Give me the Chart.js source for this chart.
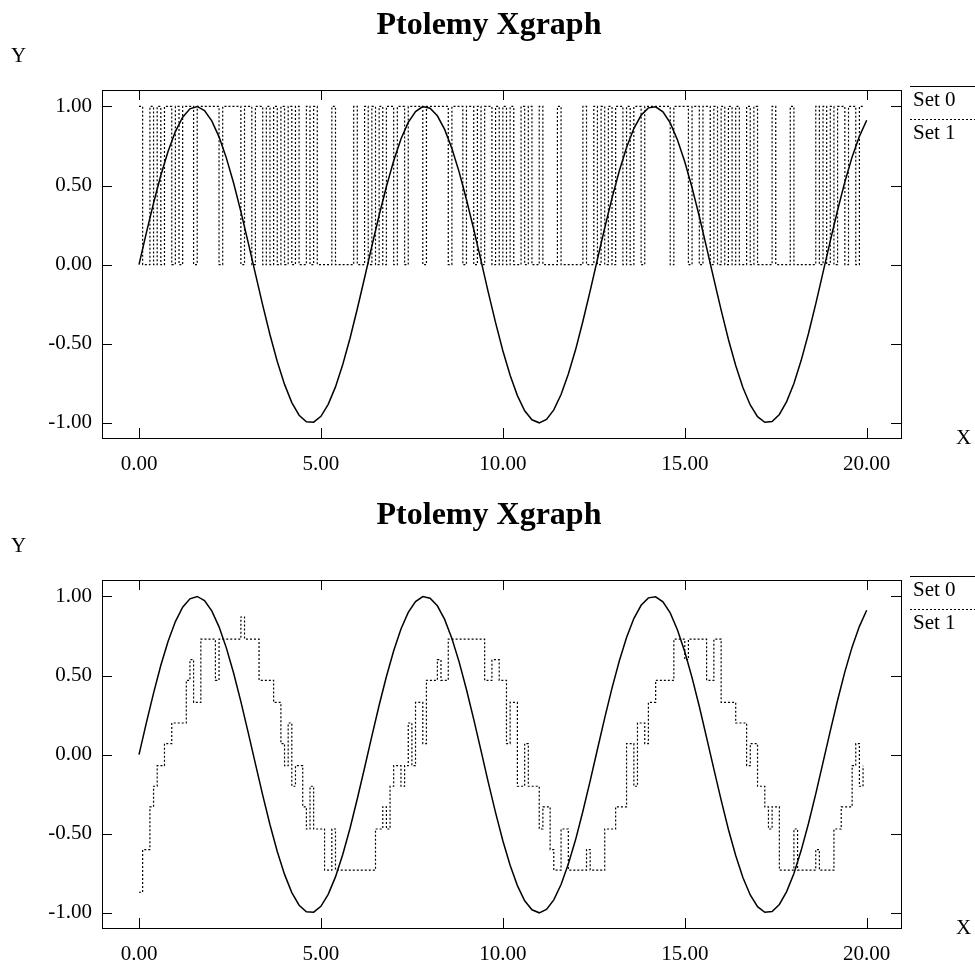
<!DOCTYPE html>
<html>
<head>
<meta charset="utf-8">
<script src="https://cdn.jsdelivr.net/npm/chart.js@4.4.1/dist/chart.umd.min.js"></script>
<style>
  html, body { margin: 0; padding: 0; background: #fff; }
  body { width: 975px; height: 968px; overflow: hidden; position: relative; }
  canvas { position: absolute; left: 0; }
  #top { top: 0; }
  #bottom { top: 490px; }
</style>
</head>
<body>
<canvas id="top" width="975" height="490"></canvas>
<canvas id="bottom" width="975" height="490"></canvas>
<script>
// ---- data ----
const TITLE = 'Ptolemy Xgraph';
const SERIES = ['Set 0', 'Set 1'];
const X_TICKS = [0, 5, 10, 15, 20];
const Y_TICKS = [-1, -0.5, 0, 0.5, 1];

// Set 0: sine, one sample every 0.2
const SET0_STEP = 0.2;
const SET0 = [
  0, 0.199, 0.389, 0.565, 0.717, 0.841, 0.932, 0.985, 1.0, 0.974,
  0.909, 0.808, 0.675, 0.516, 0.335, 0.141, -0.058, -0.256, -0.443, -0.612,
  -0.757, -0.872, -0.952, -0.994, -0.996, -0.959, -0.883, -0.773, -0.631, -0.465,
  -0.279, -0.083, 0.117, 0.312, 0.494, 0.657, 0.794, 0.899, 0.968, 0.999,
  0.989, 0.941, 0.855, 0.734, 0.585, 0.412, 0.223, 0.025, -0.175, -0.367,
  -0.544, -0.699, -0.828, -0.924, -0.981, -1.0, -0.979, -0.918, -0.821, -0.691,
  -0.537, -0.358, -0.166, 0.034, 0.232, 0.420, 0.592, 0.740, 0.860, 0.944,
  0.991, 0.998, 0.966, 0.896, 0.788, 0.650, 0.487, 0.304, 0.108, -0.092,
  -0.288, -0.473, -0.638, -0.778, -0.887, -0.961, -0.997, -0.992, -0.947, -0.866,
  -0.751, -0.605, -0.435, -0.248, -0.049, 0.150, 0.344, 0.523, 0.681, 0.811,
  0.913
];

// Set 1, one sample every 0.1
const SET1_STEP = 0.1;
// top graph: 0/1 stream
const SET1_TOP = [
  1,0,0,1,0,1,0,1,1,0,
  1,0,1,1,1,0,1,1,1,1,
  1,1,0,1,1,1,1,1,0,1,
  1,0,1,1,0,1,0,1,0,1,
  0,1,0,1,0,0,1,0,1,0,
  0,0,0,1,0,0,0,0,0,1,
  0,0,1,0,1,0,1,0,1,1,
  0,1,1,0,1,1,1,1,0,1,
  1,1,1,1,1,0,1,1,1,0,
  1,1,0,1,0,1,1,0,1,0,
  1,0,1,0,0,1,0,1,0,0,
  1,0,0,0,0,1,0,0,0,0,
  0,0,1,0,0,1,0,1,0,1,
  0,1,1,0,1,0,1,1,0,1,
  1,1,1,1,1,1,0,1,1,1,
  1,0,1,1,0,1,1,0,1,0,
  1,0,1,0,1,0,0,1,0,1,
  0,0,0,0,1,0,0,0,0,1,
  0,0,0,0,0,0,1,0,1,0,
  1,0,1,1,0,1,1,0,1,1
];
// bottom graph: quantized staircase
const SET1_BOTTOM = [
  -0.87, -0.6, -0.6, -0.33, -0.2, -0.07, -0.07, 0.07, 0.07, 0.2,
  0.2, 0.2, 0.2, 0.47, 0.6, 0.33, 0.33, 0.73, 0.73, 0.73,
  0.73, 0.47, 0.73, 0.73, 0.73, 0.73, 0.73, 0.73, 0.87, 0.73,
  0.73, 0.73, 0.73, 0.47, 0.47, 0.47, 0.47, 0.33, 0.33, 0.07,
  -0.07, 0.2, -0.2, -0.07, -0.07, -0.33, -0.47, -0.2, -0.47, -0.47,
  -0.47, -0.73, -0.73, -0.47, -0.73, -0.73, -0.73, -0.73, -0.73, -0.73,
  -0.73, -0.73, -0.73, -0.73, -0.73, -0.47, -0.47, -0.33, -0.47, -0.2,
  -0.07, -0.07, -0.2, -0.07, 0.2, -0.07, 0.33, 0.33, 0.07, 0.47,
  0.47, 0.47, 0.6, 0.47, 0.47, 0.73, 0.73, 0.73, 0.73, 0.73,
  0.73, 0.73, 0.73, 0.73, 0.73, 0.47, 0.47, 0.6, 0.6, 0.47,
  0.47, 0.07, 0.33, 0.33, -0.2, -0.2, 0.07, -0.2, -0.2, -0.2,
  -0.47, -0.33, -0.33, -0.6, -0.73, -0.73, -0.47, -0.47, -0.73, -0.73,
  -0.73, -0.73, -0.73, -0.6, -0.73, -0.73, -0.73, -0.73, -0.47, -0.47,
  -0.47, -0.33, -0.33, -0.33, 0.07, 0.07, -0.2, 0.2, 0.2, 0.07,
  0.33, 0.33, 0.47, 0.47, 0.47, 0.47, 0.47, 0.73, 0.73, 0.73,
  0.6, 0.73, 0.73, 0.73, 0.73, 0.73, 0.47, 0.47, 0.73, 0.73,
  0.33, 0.33, 0.33, 0.33, 0.2, 0.2, 0.2, -0.07, 0.07, 0.07,
  -0.2, -0.2, -0.33, -0.47, -0.33, -0.33, -0.73, -0.73, -0.73, -0.73,
  -0.47, -0.73, -0.73, -0.73, -0.73, -0.73, -0.6, -0.73, -0.73, -0.73,
  -0.73, -0.47, -0.47, -0.33, -0.33, -0.33, -0.07, 0.07, -0.2, -0.07
];

// ---- look ----
const SERIF = '"Liberation Serif", "DejaVu Serif", serif';
const TICK_LEN = 10;

// frame, inward ticks, title, axis letters and legend
const xgraphPlugin = {
  id: 'xgraph',
  afterDraw(chart) {
    const { ctx, chartArea: a, scales: { x, y } } = chart;
    ctx.save();
    ctx.strokeStyle = '#000';
    ctx.lineWidth = 1;
    ctx.setLineDash([]);
    ctx.strokeRect(a.left + 0.5, a.top + 0.5, a.right - a.left, a.bottom - a.top);

    ctx.beginPath();
    X_TICKS.forEach(v => {
      const px = Math.round(x.getPixelForValue(v)) + 0.5;
      ctx.moveTo(px, a.bottom); ctx.lineTo(px, a.bottom - TICK_LEN);
      ctx.moveTo(px, a.top); ctx.lineTo(px, a.top + TICK_LEN);
    });
    Y_TICKS.forEach(v => {
      const py = Math.round(y.getPixelForValue(v)) + 0.5;
      ctx.moveTo(a.left, py); ctx.lineTo(a.left + TICK_LEN, py);
      ctx.moveTo(a.right, py); ctx.lineTo(a.right - TICK_LEN, py);
    });
    ctx.stroke();

    ctx.fillStyle = '#000';
    ctx.font = 'bold 32px ' + SERIF;
    ctx.textAlign = 'center';
    ctx.textBaseline = 'middle';
    ctx.fillText(TITLE, 489, 26);

    ctx.font = '21px ' + SERIF;
    ctx.textAlign = 'left';
    ctx.fillText('Y', 11, 56);
    ctx.fillText('X', 956, a.bottom);

    // legend
    ctx.textBaseline = 'alphabetic';
    ctx.fillText(SERIES[0], 913, 106);
    ctx.fillText(SERIES[1], 913, 139);
    ctx.beginPath();
    ctx.moveTo(910, 86.5); ctx.lineTo(975, 86.5);
    ctx.stroke();
    ctx.setLineDash([2, 2]);
    ctx.beginPath();
    ctx.moveTo(910, 119.5); ctx.lineTo(975, 119.5);
    ctx.stroke();
    ctx.restore();
  }
};

function points(values, step) {
  return values.map((v, i) => ({ x: +(i * step).toFixed(2), y: v }));
}

function makeGraph(id, set1) {
  return new Chart(document.getElementById(id), {
    type: 'line',
    data: {
      datasets: [
        {
          label: SERIES[0],
          data: points(SET0, SET0_STEP),
          borderColor: '#000',
          borderWidth: 1.5,
          pointRadius: 0,
          fill: false
        },
        {
          label: SERIES[1],
          data: points(set1, SET1_STEP),
          borderColor: '#000',
          borderWidth: 1.2,
          borderDash: [2, 2],
          stepped: 'before',
          pointRadius: 0,
          fill: false
        }
      ]
    },
    options: {
      responsive: false,
      animation: false,
      devicePixelRatio: 1,
      layout: { padding: { top: 90, right: 74, left: 0, bottom: 0 } },
      plugins: {
        legend: { display: false },
        title: { display: false },
        tooltip: { enabled: false }
      },
      scales: {
        x: {
          type: 'linear',
          min: -1.017,
          max: 20.943,
          afterBuildTicks: s => { s.ticks = X_TICKS.map(v => ({ value: v })); },
          afterFit: s => { s.height = 52; },
          grid: { display: false, drawTicks: false },
          border: { display: false },
          ticks: {
            autoSkip: false,
            maxRotation: 0,
            padding: 14,
            color: '#000',
            font: { family: SERIF, size: 21 },
            callback: v => Number(v).toFixed(2)
          }
        },
        y: {
          min: -1.096,
          max: 1.104,
          afterBuildTicks: s => { s.ticks = Y_TICKS.map(v => ({ value: v })); },
          afterFit: s => { s.width = 102; },
          grid: { display: false, drawTicks: false },
          border: { display: false },
          ticks: {
            padding: 10,
            color: '#000',
            font: { family: SERIF, size: 21 },
            callback: v => Number(v).toFixed(2)
          }
        }
      }
    },
    plugins: [xgraphPlugin]
  });
}

makeGraph('top', SET1_TOP);
makeGraph('bottom', SET1_BOTTOM);
</script>
</body>
</html>
